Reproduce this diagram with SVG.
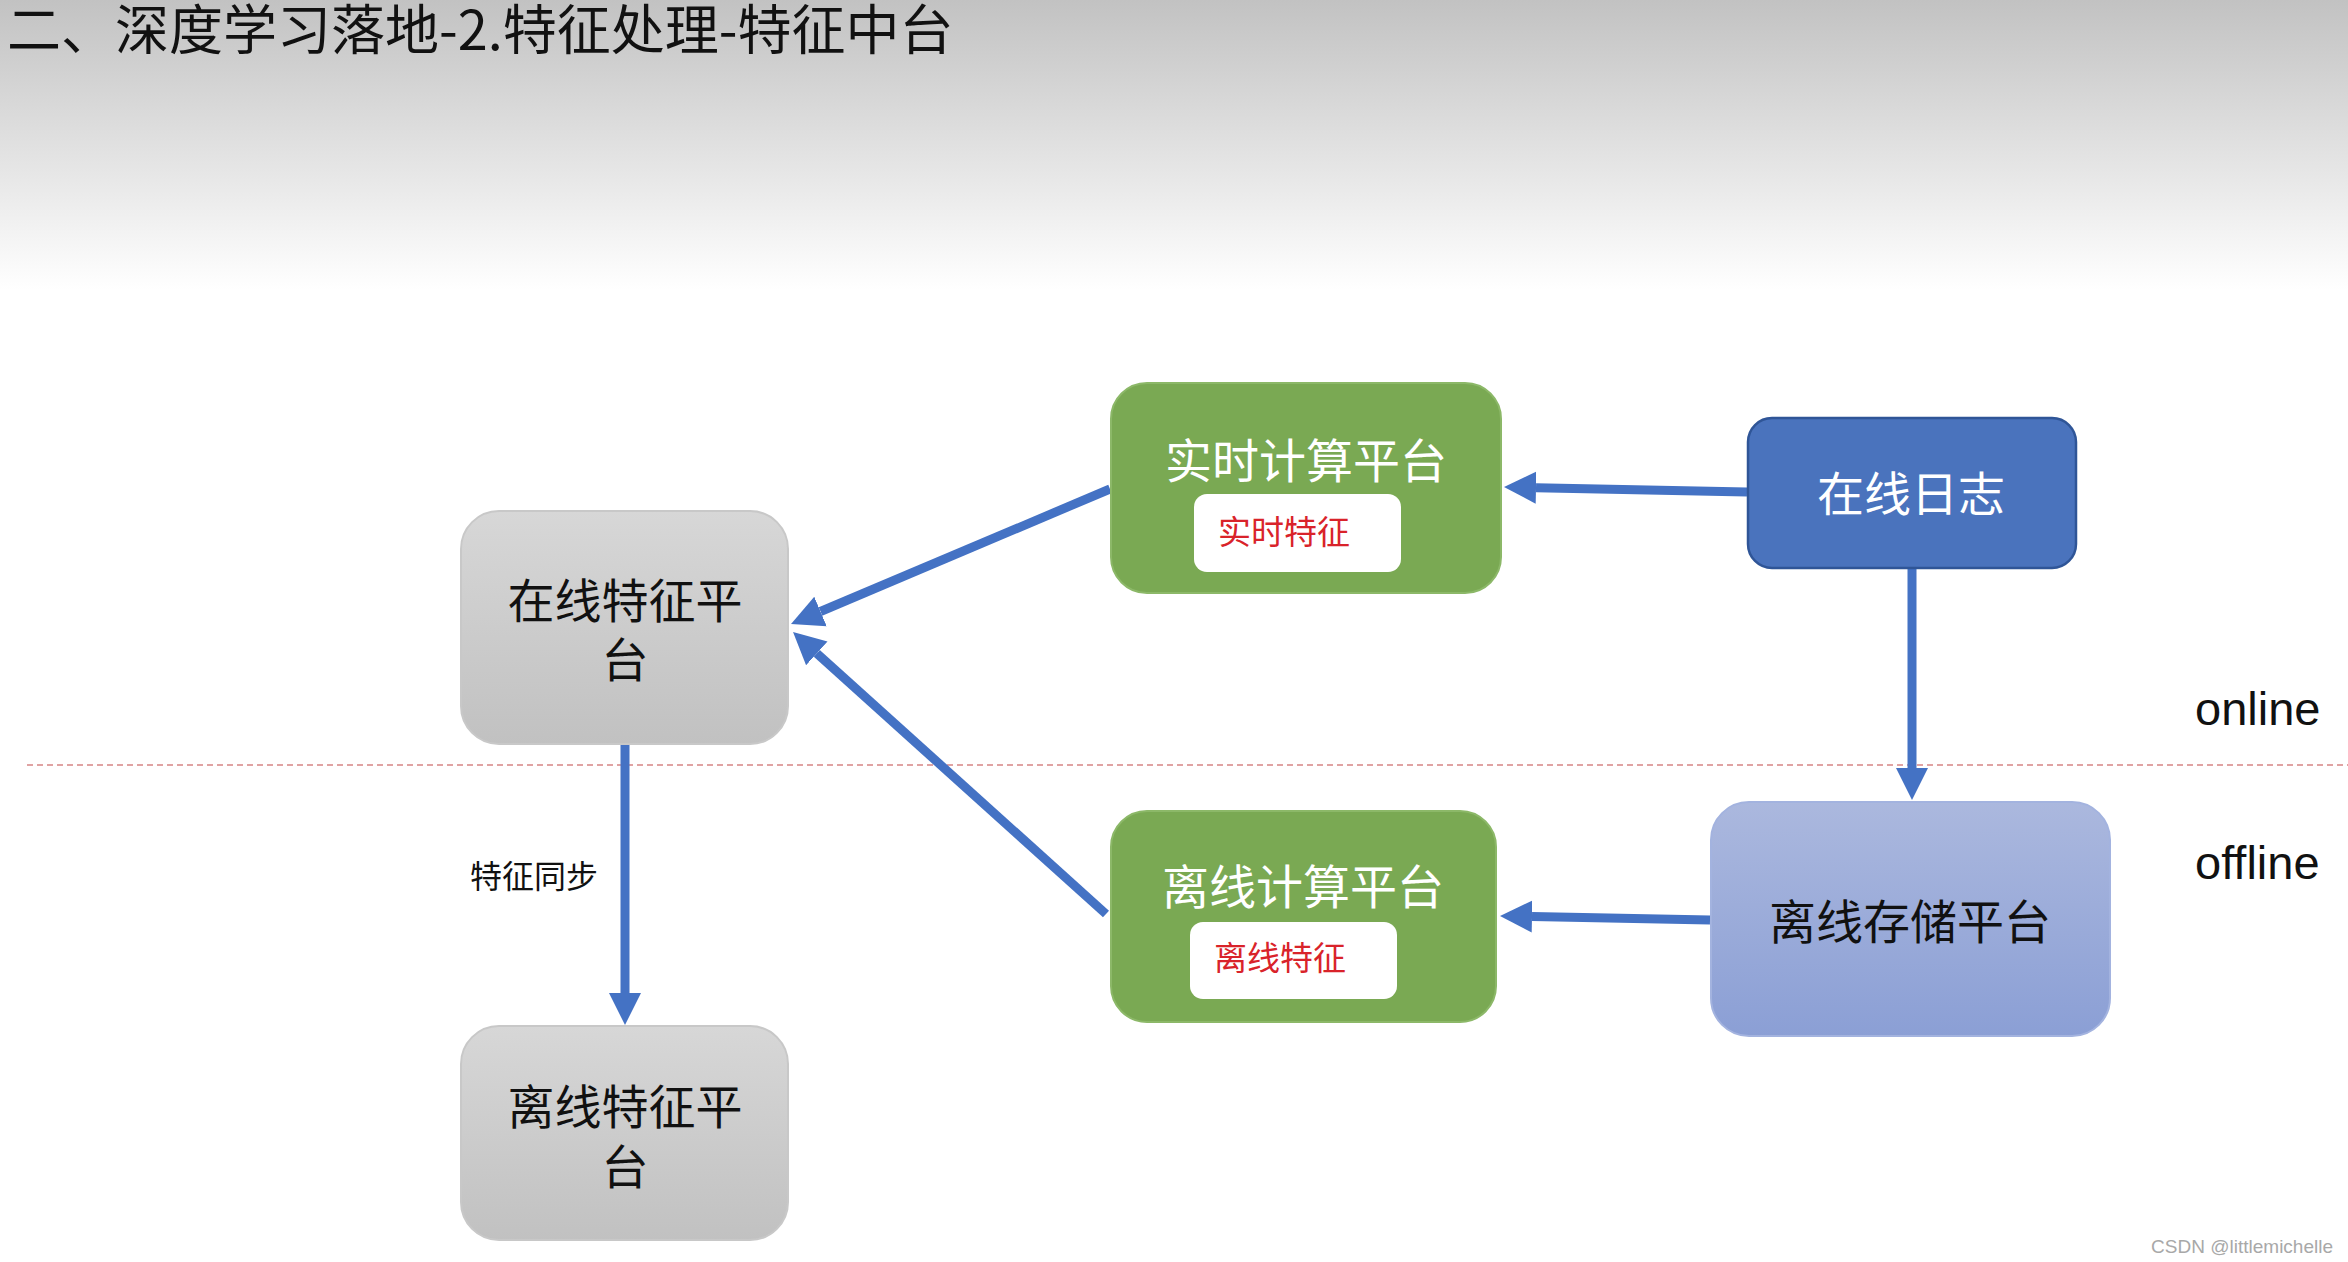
<svg xmlns="http://www.w3.org/2000/svg" width="2348" height="1262" viewBox="0 0 2348 1262">
<defs>
<style>
.cjk{font-family:"Noto Sans CJK SC","Noto Sans",sans-serif;}
.lat{font-family:"Liberation Sans","Noto Sans",sans-serif;}
.conn{stroke:#4472c4;stroke-width:9;fill:none;marker-end:url(#ah);}
.big{font-size:47px;text-anchor:middle;}
.sub{font-size:33px;fill:#d9232a;}
</style>
<linearGradient id="hdr" x1="0" y1="0" x2="0" y2="1">
<stop offset="0" stop-color="#c2c2c2"/>
<stop offset="1" stop-color="#ffffff"/>
</linearGradient>
<linearGradient id="gray" x1="0" y1="0" x2="0" y2="1">
<stop offset="0" stop-color="#d7d7d7"/>
<stop offset="1" stop-color="#c1c1c1"/>
</linearGradient>
<linearGradient id="lblue" x1="0" y1="0" x2="0" y2="1">
<stop offset="0" stop-color="#abb8de"/>
<stop offset="1" stop-color="#8b9fd5"/>
</linearGradient>
<marker id="ah" markerUnits="userSpaceOnUse" markerWidth="34" markerHeight="34" viewBox="0 -17 34 34" refX="0" refY="0" orient="auto">
<path d="M0,-16 L32,0 L0,16 z" fill="#4472c4"/>
</marker>
</defs>
<rect x="0" y="0" width="2348" height="1262" fill="#ffffff"/>
<rect x="0" y="0" width="2348" height="290" fill="url(#hdr)"/>
<text class="cjk" x="7" y="50" font-size="54" fill="#111">二、深度学习落地-2.特征处理-特征中台</text>
<line x1="27" y1="765" x2="2348" y2="765" stroke="#e0a3a3" stroke-width="2" stroke-dasharray="6,4"/>
<text class="lat" x="2195" y="725" font-size="47" fill="#111">online</text>
<text class="lat" x="2195" y="879" font-size="47" fill="#111">offline</text>
<g id="connectors">
<line class="conn" x1="1747" y1="492" x2="1536" y2="487.7"/>
<line class="conn" x1="1110" y1="489" x2="820.5" y2="611.5"/>
<line class="conn" x1="1106" y1="914" x2="816.8" y2="653.4"/>
<line class="conn" x1="1912" y1="569" x2="1912" y2="768"/>
<line class="conn" x1="1710" y1="920" x2="1532" y2="916.6"/>
<line class="conn" x1="625" y1="744" x2="625" y2="993"/>
<text class="cjk" x="470" y="888" font-size="32" fill="#111">特征同步</text>
</g>
<g id="online-feature">
<rect x="461" y="511" width="327" height="233" rx="38" fill="url(#gray)" stroke="#c8c8c8" stroke-width="2"/>
<text class="cjk big" fill="#111"><tspan x="625" y="618">在线特征平</tspan><tspan x="625" y="677">台</tspan></text>
</g>
<g id="offline-feature">
<rect x="461" y="1026" width="327" height="214" rx="38" fill="url(#gray)" stroke="#c8c8c8" stroke-width="2"/>
<text class="cjk big" fill="#111"><tspan x="625" y="1124">离线特征平</tspan><tspan x="625" y="1184">台</tspan></text>
</g>
<g id="realtime-compute">
<rect x="1111" y="383" width="390" height="210" rx="36" fill="#7aa953" stroke="#8cb868" stroke-width="2"/>
<text class="cjk big" x="1306" y="478" fill="#ffffff">实时计算平台</text>
<rect x="1194" y="494" width="207" height="78" rx="13" fill="#ffffff"/>
<text class="cjk sub" x="1218" y="544">实时特征</text>
</g>
<g id="offline-compute">
<rect x="1111" y="811" width="385" height="211" rx="36" fill="#7aa953" stroke="#8cb868" stroke-width="2"/>
<text class="cjk big" x="1303" y="904" fill="#ffffff">离线计算平台</text>
<rect x="1190" y="922" width="207" height="77" rx="13" fill="#ffffff"/>
<text class="cjk sub" x="1214" y="970">离线特征</text>
</g>
<g id="online-log">
<rect x="1748" y="418" width="328" height="150" rx="24" fill="#4a73bd" stroke="#2f5597" stroke-width="2.5"/>
<text class="cjk big" x="1911" y="511" fill="#ffffff">在线日志</text>
</g>
<g id="offline-storage">
<rect x="1711" y="802" width="399" height="234" rx="38" fill="url(#lblue)" stroke="#a3b3df" stroke-width="2"/>
<text class="cjk big" x="1910" y="939" fill="#111">离线存储平台</text>
</g>
<text class="lat" x="2333" y="1253" font-size="19" fill="#a8a8a8" text-anchor="end">CSDN @littlemichelle</text>
</svg>
